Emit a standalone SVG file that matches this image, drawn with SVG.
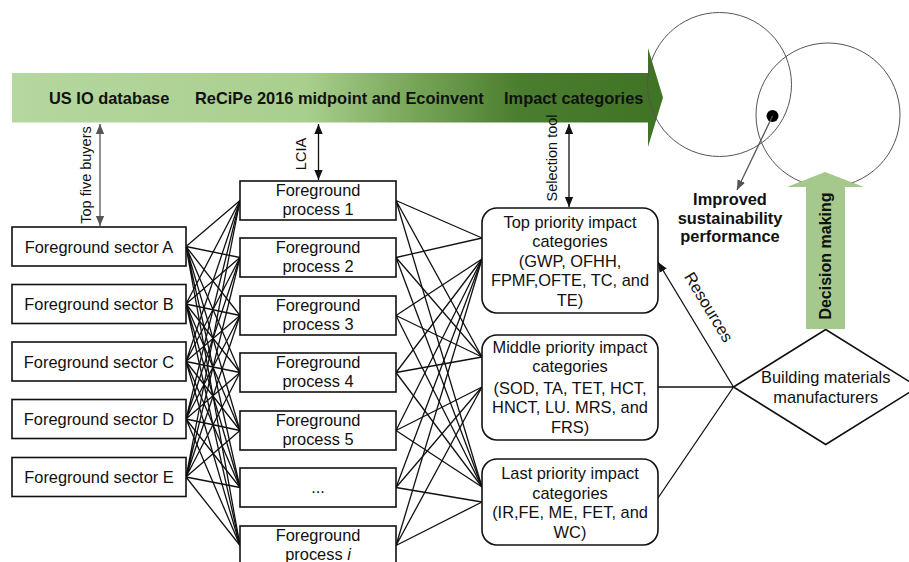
<svg xmlns="http://www.w3.org/2000/svg" width="909" height="562" viewBox="0 0 909 562">
<style>
text{font-family:"Liberation Sans",Arial,sans-serif;fill:#111}
.t{font-size:16.4px;text-anchor:middle}
.b{font-size:16.4px;font-weight:bold}
.r{font-size:14.5px}
.box{fill:#fff;stroke:#111;stroke-width:1.6}
.ln{fill:none;stroke:#111;stroke-width:1.3}
.gr{fill:none;stroke:#555;stroke-width:1.3}
.circ{fill:none;stroke:#555;stroke-width:1}
</style>
<defs>
<linearGradient id="band" gradientUnits="userSpaceOnUse" x1="12" y1="0" x2="663" y2="0">
<stop offset="0" stop-color="#b5d7a0"/>
<stop offset="0.45" stop-color="#a9cf8e"/>
<stop offset="0.62" stop-color="#77a558"/>
<stop offset="0.78" stop-color="#4b7d2e"/>
<stop offset="1" stop-color="#3f7424"/>
</linearGradient>
<marker id="ah" markerUnits="userSpaceOnUse" markerWidth="10" markerHeight="10" refX="12" refY="5" orient="auto-start-reverse" viewBox="0 0 12 10"><path d="M0,0L12,5L0,10z" fill="#111"/></marker>
<marker id="ahg" markerUnits="userSpaceOnUse" markerWidth="10" markerHeight="10" refX="12" refY="5" orient="auto-start-reverse" viewBox="0 0 12 10"><path d="M0,0L12,5L0,10z" fill="#555"/></marker>
</defs>

<g id="banner">
<polygon points="12,73 648,73 648,48 663,97.5 648,147 648,122.5 12,122.5" fill="url(#band)"/>
<text class="b" x="49" y="103.5">US IO database</text>
<text class="b" x="195" y="103.5">ReCiPe 2016 midpoint and Ecoinvent</text>
<text class="b" x="504" y="103.5">Impact categories</text>
</g>

<g id="circles">
<circle class="circ" cx="719.5" cy="84.5" r="72"/>
<circle class="circ" cx="828" cy="115" r="72"/>
<circle cx="772.5" cy="116" r="6" fill="#000"/>
</g>

<g id="connectors">
<path class="gr" d="M100,124V226" marker-start="url(#ahg)" marker-end="url(#ahg)"/>
<path class="ln" d="M318.5,124V180" marker-start="url(#ah)" marker-end="url(#ah)"/>
<path class="ln" d="M569,124V207" marker-start="url(#ah)" marker-end="url(#ah)"/>
<path class="gr" d="M772.5,116L737,190" stroke="#444" marker-end="url(#ahg)"/>
<path class="ln" d="M186,246.5L240,200.5M186,246.5L240,257.5M186,246.5L240,315.5M186,246.5L240,372.5M186,246.5L240,430.5M186,246.5L240,487.5M186,246.5L240,545.5"/>
<path class="ln" d="M186,304L240,200.5M186,304L240,257.5M186,304L240,315.5M186,304L240,372.5M186,304L240,430.5M186,304L240,487.5M186,304L240,545.5"/>
<path class="ln" d="M186,361.5L240,200.5M186,361.5L240,257.5M186,361.5L240,315.5M186,361.5L240,372.5M186,361.5L240,430.5M186,361.5L240,487.5M186,361.5L240,545.5"/>
<path class="ln" d="M186,419L240,200.5M186,419L240,257.5M186,419L240,315.5M186,419L240,372.5M186,419L240,430.5M186,419L240,487.5M186,419L240,545.5"/>
<path class="ln" d="M186,477L240,200.5M186,477L240,257.5M186,477L240,315.5M186,477L240,372.5M186,477L240,430.5M186,477L240,487.5M186,477L240,545.5"/>
<path class="ln" d="M396,200.5L482,238M396,200.5L482,357M396,200.5L482,487"/>
<path class="ln" d="M396,257.5L482,238M396,257.5L482,357M396,257.5L482,487"/>
<path class="ln" d="M396,315.5L482,259M396,315.5L482,357M396,315.5L482,487"/>
<path class="ln" d="M396,372.5L482,259M396,372.5L482,357M396,372.5L482,487"/>
<path class="ln" d="M396,430.5L482,259M396,430.5L482,387M396,430.5L482,487"/>
<path class="ln" d="M396,487.5L482,259M396,487.5L482,387M396,487.5L482,502"/>
<path class="ln" d="M396,545.5L482,259M396,545.5L482,387M396,545.5L482,502"/>
<path class="ln" d="M733.5,387H658M733.5,387L658,498"/>
<path class="ln" d="M733.5,387L658,262" marker-end="url(#ah)"/>
</g>

<g id="labels">
<text class="r" transform="translate(91,175) rotate(-90)" text-anchor="middle">Top five buyers</text>
<text class="r" transform="translate(306,154) rotate(-90)" text-anchor="middle">LCIA</text>
<text class="r" transform="translate(557,158) rotate(-90)" text-anchor="middle">Selection tool</text>
<text class="t" transform="translate(704,310) rotate(58.7)">Resources</text>
</g>

<g id="sectorA"><rect class="box" x="12" y="227" width="174" height="39"/><text class="t" x="99" y="252.5">Foreground sector A</text></g>
<g id="sectorB"><rect class="box" x="12" y="284.5" width="174" height="39"/><text class="t" x="99" y="310">Foreground sector B</text></g>
<g id="sectorC"><rect class="box" x="12" y="342" width="174" height="39"/><text class="t" x="99" y="367.5">Foreground sector C</text></g>
<g id="sectorD"><rect class="box" x="12" y="399.5" width="174" height="39"/><text class="t" x="99" y="425">Foreground sector D</text></g>
<g id="sectorE"><rect class="box" x="12" y="457.5" width="174" height="39"/><text class="t" x="99" y="483">Foreground sector E</text></g>

<g id="process1"><rect class="box" x="240" y="181" width="156" height="39"/><text class="t" x="318" y="195.5">Foreground</text><text class="t" x="318" y="215">process 1</text></g>
<g id="process2"><rect class="box" x="240" y="238" width="156" height="39"/><text class="t" x="318" y="252.5">Foreground</text><text class="t" x="318" y="272">process 2</text></g>
<g id="process3"><rect class="box" x="240" y="296" width="156" height="39"/><text class="t" x="318" y="310.5">Foreground</text><text class="t" x="318" y="330">process 3</text></g>
<g id="process4"><rect class="box" x="240" y="353" width="156" height="39"/><text class="t" x="318" y="367.5">Foreground</text><text class="t" x="318" y="387">process 4</text></g>
<g id="process5"><rect class="box" x="240" y="411" width="156" height="39"/><text class="t" x="318" y="425.5">Foreground</text><text class="t" x="318" y="445">process 5</text></g>
<g id="processDots"><rect class="box" x="240" y="468" width="156" height="39"/><text class="t" x="318" y="493">...</text></g>
<g id="processI"><rect class="box" x="240" y="526" width="156" height="40"/><text class="t" x="318" y="540.5">Foreground</text><text class="t" x="318" y="560">process <tspan font-style="italic">i</tspan></text></g>

<g id="topPriority"><rect class="box" x="482" y="208" width="176" height="105" rx="15"/>
<text class="t" x="570" y="227.5">Top priority impact</text>
<text class="t" x="570" y="247">categories</text>
<text class="t" x="570" y="266.5">(GWP, OFHH,</text>
<text class="t" x="570" y="286">FPMF,OFTE, TC, and</text>
<text class="t" x="570" y="305.5">TE)</text></g>

<g id="middlePriority"><rect class="box" x="482" y="335" width="176" height="105" rx="15"/>
<text class="t" x="570" y="352.5">Middle priority impact</text>
<text class="t" x="570" y="372">categories</text>
<text class="t" x="570" y="394">(SOD, TA, TET, HCT,</text>
<text class="t" x="570" y="413">HNCT, LU. MRS, and</text>
<text class="t" x="570" y="432.5">FRS)</text></g>

<g id="lastPriority"><rect class="box" x="482" y="459" width="176" height="86" rx="15"/>
<text class="t" x="570" y="479">Last priority impact</text>
<text class="t" x="570" y="498.5">categories</text>
<text class="t" x="570" y="517.5">(IR,FE, ME, FET, and</text>
<text class="t" x="570" y="537.5">WC)</text></g>

<g id="manufacturers"><polygon class="box" points="733.5,387 825.7,329.5 918,387 825.7,444.5"/>
<text class="t" x="825.7" y="383">Building materials</text>
<text class="t" x="825.7" y="402.5">manufacturers</text></g>

<g id="decision"><polygon points="825,172 864,187 845,187 845,329 806,329 806,187 787,187" fill="#a5c98c"/>
<text class="b" font-size="16" transform="translate(831,256) rotate(-90)" text-anchor="middle" style="font-size:16px">Decision making</text></g>

<g id="improved">
<text class="b" x="730" y="205" text-anchor="middle">Improved</text>
<text class="b" x="730" y="223.5" text-anchor="middle">sustainability</text>
<text class="b" x="730" y="242" text-anchor="middle">performance</text>
</g>
</svg>
